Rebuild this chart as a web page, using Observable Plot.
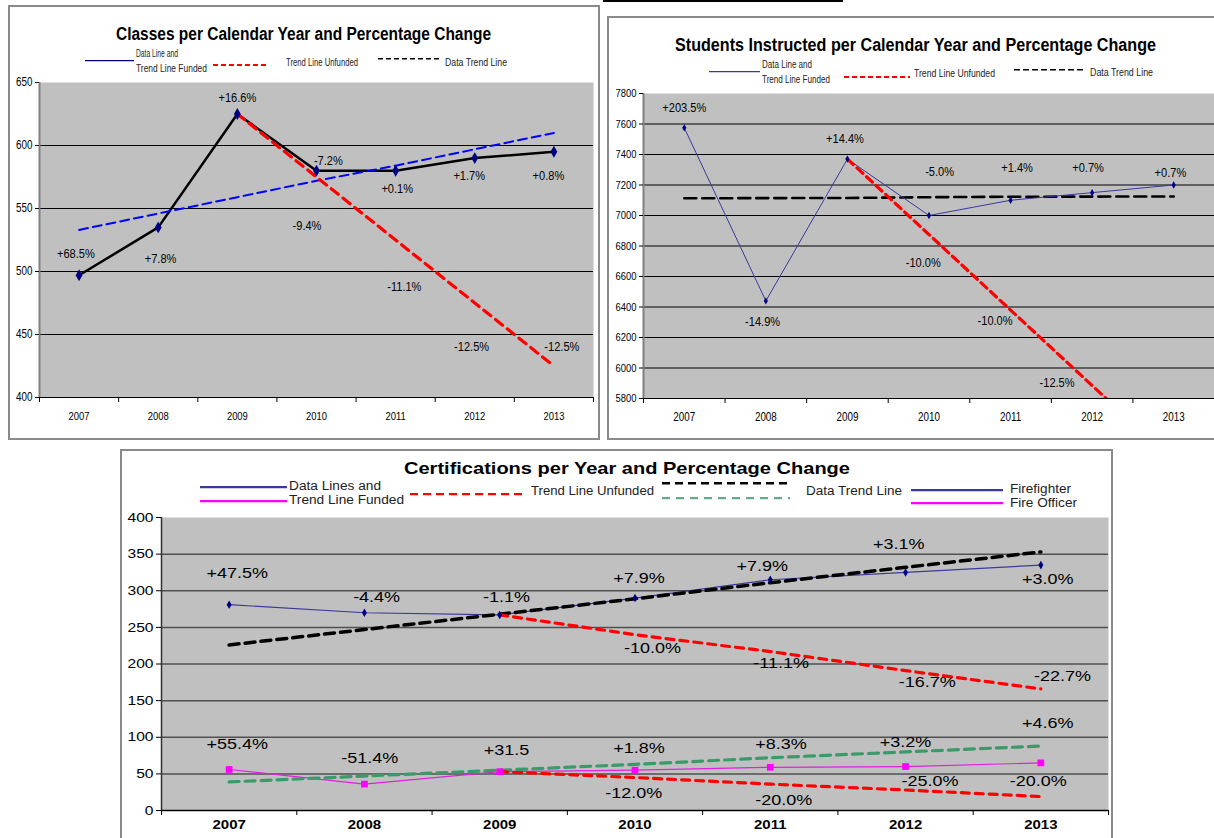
<!DOCTYPE html>
<html><head><meta charset="utf-8">
<script src="https://cdn.jsdelivr.net/npm/d3@7"></script>
<script src="https://cdn.jsdelivr.net/npm/@observablehq/plot@0.6"></script>
<style>
body{margin:0;background:#fff;}
#page{position:relative;width:1214px;height:838px;overflow:hidden;background:#fff;}
.box{position:absolute;border:2px solid #8a8a8a;box-sizing:border-box;}
.lg{position:absolute;white-space:nowrap;color:#222;}
.chart{position:absolute;}
</style></head><body><div id="page"></div>
<script>
const FONT = '"Liberation Sans",Arial,sans-serif';

// ---------- shared categories ----------
const years = [2007, 2008, 2009, 2010, 2011, 2012, 2013];
const yearEdges = [2006.5, 2007.5, 2008.5, 2009.5, 2010.5, 2011.5, 2012.5, 2013.5];
const unfundedYears = [2009, 2010, 2011, 2012, 2013];

// ---------- Chart 1: Classes ----------
const classes = [497, 535, 625, 580, 580, 590, 595];
const classesTrend = [533, 546, 559, 572, 584, 597, 610];
const classesUnfunded = [625, 575, 525, 475, 425];
const classesPct = ["+68.5%", "+7.8%", "+16.6%", "-7.2%", "+0.1%", "+1.7%", "+0.8%"];
const classesPctX = [2006.96, 2008.03, 2009.0, 2010.15, 2011.02, 2011.93, 2012.93];
const classesPctY = [514, 510, 638, 588, 566, 576, 576];
const classesUnfPct = ["-9.4%", "-11.1%", "-12.5%", "-12.5%"];
const classesUnfPctX = [2009.88, 2011.11, 2011.96, 2013.1];
const classesUnfPctY = [536, 488, 440, 440];
const classesTicks = [400, 450, 500, 550, 600, 650];
const classesGrid = [450, 500, 550, 600];

// ---------- Chart 2: Students ----------
const students = [7575, 6440, 7370, 7000, 7100, 7150, 7200];
const studentsTrend = [7113, 7114, 7115, 7120, 7123, 7124, 7125];
const studentsUnfunded = [7370, 6875, 6380, 5885, 5390];
const studentsPct = ["+203.5%", "-14.9%", "+14.4%", "-5.0%", "+1.4%", "+0.7%", "+0.7%"];
const studentsPctX = [2007.0, 2007.96, 2008.97, 2010.13, 2011.08, 2011.95, 2012.96];
const studentsPctY = [7705, 6303, 7504, 7285, 7314, 7314, 7282];
const studentsUnfPct = ["-10.0%", "-10.0%", "-12.5%"];
const studentsUnfPctX = [2009.93, 2010.81, 2011.57];
const studentsUnfPctY = [6690, 6309, 5905];
const studentsTicks = [5800, 6000, 6200, 6400, 6600, 6800, 7000, 7200, 7400, 7600, 7800];
const studentsGrid = [6000, 6200, 6400, 6600, 6800, 7000, 7200, 7400, 7600];

// ---------- Chart 3: Certifications ----------
const firefighter = [281, 270, 267, 290, 315, 325, 335];
const firefighterTrend = [226, 247, 268, 289, 311, 332, 353];
const firefighterUnfunded = [267, 240, 217, 191, 166];
const officer = [56, 36, 53, 55, 59, 60, 65];
const officerTrend = [39, 47, 55, 63, 72, 80, 88];
const officerUnfunded = [53, 45, 36, 28, 19];
const ffPct = ["+47.5%", "-4.4%", "-1.1%", "+7.9%", "+7.9%", "+3.1%", "+3.0%"];
const ffPctX = [2007.06, 2008.09, 2009.05, 2010.03, 2010.94, 2011.95, 2013.05];
const ffPctY = [324, 291, 291, 317, 333, 364, 316];
const ffUnfPct = ["-10.0%", "-11.1%", "-16.7%", "-22.7%"];
const ffUnfPctX = [2010.13, 2011.08, 2012.16, 2013.16];
const ffUnfPctY = [222, 201, 175, 184];
const foPct = ["+55.4%", "-51.4%", "+31.5", "+1.8%", "+8.3%", "+3.2%", "+4.6%"];
const foPctX = [2007.06, 2008.04, 2009.05, 2010.03, 2011.08, 2012.0, 2013.05];
const foPctY = [90, 72, 83, 85, 90, 93, 119];
const foUnfPct = ["-12.0%", "-20.0%", "-25.0%", "-20.0%"];
const foUnfPctX = [2009.99, 2011.1, 2012.18, 2012.98];
const foUnfPctY = [23.5, 14, 39.5, 39.5];
const certTicks = [0, 50, 100, 150, 200, 250, 300, 350, 400];
const certGrid = [50, 100, 150, 200, 250, 300, 350];

// ---------- helpers ----------
const page = document.getElementById("page");
function place(el, left, top) {
  const w = document.createElement("div");
  w.className = "chart";
  w.style.left = left + "px"; w.style.top = top + "px";
  w.appendChild(el); page.appendChild(w);
}
function box(l, t, w, h) {
  const d = document.createElement("div");
  d.className = "box";
  Object.assign(d.style, {left: l + "px", top: t + "px", width: w + "px", height: h + "px"});
  page.appendChild(d);
}
function addText(str, left, cy, size, width, extra = {}) {
  const d = document.createElement("div");
  d.className = "lg";
  d.textContent = str;
  Object.assign(d.style, {left: left + "px", top: (cy - size * 0.6) + "px", fontSize: size + "px", lineHeight: (size * 1.2) + "px", fontFamily: FONT}, extra);
  page.appendChild(d);
  if (width) {
    const w = d.getBoundingClientRect().width;
    d.style.transformOrigin = "left center";
    d.style.transform = `scaleX(${width / w})`;
  }
  return d;
}
function title(str, cx, cy, size, width) {
  return addText(str, cx - width / 2, cy, size, width, {fontWeight: "bold", color: "#000"});
}
function swatch(x1, x2, y, color, sw, dash) {
  const ns = "http://www.w3.org/2000/svg";
  const s = document.createElementNS(ns, "svg");
  const h = sw + 4;
  s.setAttribute("width", x2 - x1); s.setAttribute("height", h);
  s.style.position = "absolute"; s.style.left = x1 + "px"; s.style.top = (y - h / 2) + "px";
  const l = document.createElementNS(ns, "line");
  l.setAttribute("x1", 0); l.setAttribute("x2", x2 - x1);
  l.setAttribute("y1", h / 2); l.setAttribute("y2", h / 2);
  l.setAttribute("stroke", color); l.setAttribute("stroke-width", sw);
  if (dash) l.setAttribute("stroke-dasharray", dash);
  s.appendChild(l); page.appendChild(s);
}
// horizontally squeeze / stretch every text of a chart (Arial Narrow look, or stretched look)
function stretch(svg, k) {
  svg.querySelectorAll("text").forEach(t => {
    const tr = t.getAttribute("transform");
    if (tr) t.setAttribute("transform", tr + ` scale(${k},1)`);
    else {
      const x = t.getAttribute("x") || 0, y = t.getAttribute("y") || 0;
      t.removeAttribute("x"); t.removeAttribute("y");
      t.setAttribute("transform", `translate(${x},${y}) scale(${k},1)`);
    }
  });
}
const idx = (arr) => (d, i) => arr[i];
const yearFmt = d => String(d);

// ---------- panel frames ----------
const topLine = document.createElement("div");
Object.assign(topLine.style, {position: "absolute", left: "603px", top: "0px", width: "240px", height: "2px", background: "#000"});
page.appendChild(topLine);
box(8, 5, 592, 435);
box(607, 16, 620, 424);
box(120, 449, 993, 400);

// ---------- Chart 1 ----------
const c1 = Plot.plot({
  width: 600, height: 440,
  marginLeft: 39, marginRight: 7, marginTop: 82, marginBottom: 43,
  x: {domain: [2006.5, 2013.5]},
  y: {domain: [400, 650]},
  style: {fontFamily: FONT, background: "transparent", color: "#000", overflow: "visible"},
  marks: [
    Plot.frame({fill: "#c0c0c0", stroke: null}),
    Plot.ruleY(classesGrid, {stroke: "#000", strokeWidth: 1}),
    Plot.ruleX([2006.5], {stroke: "#808080", strokeWidth: 2}),
    Plot.ruleY([400], {stroke: "#000", strokeWidth: 1}),
    Plot.axisY({ticks: classesTicks, tickSize: 4, tickPadding: 3, fontSize: 12, tickFormat: yearFmt, label: null}),
    Plot.axisX({ticks: years, tickSize: 0, tickPadding: 14, fontSize: 11.5, tickFormat: yearFmt, label: null}),
    Plot.axisX({ticks: yearEdges, tickSize: 5, tickFormat: () => "", label: null}),
    Plot.line(years, {x: d => d, y: idx(classes), stroke: "#000", strokeWidth: 2.5}),
    Plot.line(years, {x: d => d, y: idx(classesTrend), stroke: "#0000ff", strokeWidth: 2, strokeDasharray: "9,5"}),
    Plot.line(unfundedYears, {x: d => d, y: idx(classesUnfunded), stroke: "#ff0000", strokeWidth: 3.2, strokeDasharray: "9,6"}),
    Plot.dot(years, {x: d => d, y: idx(classes), symbol: "diamond", r: 3.6, fill: "#000080", stroke: "none"}),
    Plot.text(classesPct, {x: idx(classesPctX), y: idx(classesPctY), text: d => d, fontSize: 13.5, fill: "#000"}),
    Plot.text(classesUnfPct, {x: idx(classesUnfPctX), y: idx(classesUnfPctY), text: d => d, fontSize: 13.5, fill: "#000"})
  ]
});
stretch(c1, 0.82);
place(c1, 0, 0);
title("Classes per Calendar Year and Percentage Change", 303, 35, 18, 375);
swatch(85, 134, 61, "#000080", 1.2);
addText("Data Line and", 136, 54, 10, 42);
addText("Trend Line Funded", 136, 69, 10, 71);
swatch(213, 267, 65, "#ff0000", 2, "5,3");
addText("Trend Line Unfunded", 286, 63, 10, 72);
swatch(378, 439, 59, "#000", 1.5, "5,3");
addText("Data Trend Line", 445, 63, 10, 62);

// ---------- Chart 2 ----------
const c2 = Plot.plot({
  width: 607, height: 424,
  marginLeft: 36, marginRight: 0, marginTop: 77, marginBottom: 42,
  x: {domain: [2006.5, 2013.5]},
  y: {domain: [5800, 7800]},
  style: {fontFamily: FONT, background: "transparent", color: "#000", overflow: "visible"},
  marks: [
    Plot.frame({fill: "#c0c0c0", stroke: null}),
    Plot.ruleY(studentsGrid, {stroke: "#000", strokeWidth: 1}),
    Plot.ruleX([2006.5], {stroke: "#808080", strokeWidth: 2}),
    Plot.ruleY([5800], {stroke: "#000", strokeWidth: 1}),
    Plot.axisY({ticks: studentsTicks, tickSize: 4, tickPadding: 3, fontSize: 11.5, tickFormat: yearFmt, label: null}),
    Plot.axisX({ticks: years, tickSize: 0, tickPadding: 14, fontSize: 12, tickFormat: yearFmt, label: null}),
    Plot.axisX({ticks: yearEdges, tickSize: 5, tickFormat: () => "", label: null}),
    Plot.line(years, {x: d => d, y: idx(studentsTrend), stroke: "#000", strokeWidth: 2.6, strokeDasharray: "12,6"}),
    Plot.line(years, {x: d => d, y: idx(students), stroke: "#3a3a9a", strokeWidth: 1}),
    Plot.line(unfundedYears, {x: d => d, y: idx(studentsUnfunded), stroke: "#ff0000", strokeWidth: 3.2, strokeDasharray: "8,5", clip: true}),
    Plot.dot(years, {x: d => d, y: idx(students), symbol: "diamond", r: 2.2, fill: "#000080", stroke: "none"}),
    Plot.text(studentsPct, {x: idx(studentsPctX), y: idx(studentsPctY), text: d => d, fontSize: 13.5, fill: "#000"}),
    Plot.text(studentsUnfPct, {x: idx(studentsUnfPctX), y: idx(studentsUnfPctY), text: d => d, fontSize: 13.5, fill: "#000"})
  ]
});
stretch(c2, 0.82);
place(c2, 607, 16);
title("Students Instructed per Calendar Year and Percentage Change", 915, 46, 18, 481);
swatch(709, 760, 72, "#3a3a9a", 1.2);
addText("Data Line and", 762, 65, 10, 50);
addText("Trend Line Funded", 762, 80, 10, 68);
swatch(844, 910, 77, "#ff0000", 2, "5,3");
addText("Trend Line Unfunded", 914, 74, 10, 81);
swatch(1014, 1085, 70, "#000", 1.5, "6,3");
addText("Data Trend Line", 1090, 73, 10, 63);

// ---------- Chart 3 ----------
const c3 = Plot.plot({
  width: 988, height: 389,
  marginLeft: 41, marginRight: 0, marginTop: 68, marginBottom: 28,
  x: {domain: [2006.5, 2013.5]},
  y: {domain: [0, 400]},
  style: {fontFamily: FONT, background: "transparent", color: "#000", overflow: "visible"},
  marks: [
    Plot.frame({fill: "#c0c0c0", stroke: null}),
    Plot.ruleY(certGrid, {stroke: "#505050", strokeWidth: 1.5}),
    Plot.ruleX([2006.5], {stroke: "#303030", strokeWidth: 1.5}),
    Plot.ruleY([0], {stroke: "#000", strokeWidth: 1.5}),
    Plot.axisY({ticks: certTicks, tickSize: 5, tickPadding: 3, fontSize: 13, tickFormat: yearFmt, label: null}),
    Plot.axisX({ticks: years, tickSize: 0, tickPadding: 10, fontSize: 12.5, fontWeight: "bold", tickFormat: yearFmt, label: null}),
    Plot.axisX({ticks: yearEdges, tickSize: 5, tickFormat: () => "", label: null}),
    Plot.line(years, {x: d => d, y: idx(firefighter), stroke: "#3a3a9a", strokeWidth: 1.2}),
    Plot.line(years, {x: d => d, y: idx(officer), stroke: "#e020e0", strokeWidth: 1.2}),
    Plot.line(years, {x: d => d, y: idx(firefighterTrend), stroke: "#000", strokeWidth: 3.5, strokeDasharray: "10,6"}),
    Plot.line(years, {x: d => d, y: idx(officerTrend), stroke: "#3a9a6a", strokeWidth: 3.2, strokeDasharray: "10,6"}),
    Plot.line(unfundedYears, {x: d => d, y: idx(firefighterUnfunded), stroke: "#ff0000", strokeWidth: 3.2, strokeDasharray: "8,6"}),
    Plot.line(unfundedYears, {x: d => d, y: idx(officerUnfunded), stroke: "#ff0000", strokeWidth: 3.2, strokeDasharray: "8,6"}),
    Plot.dot(years, {x: d => d, y: idx(firefighter), symbol: "diamond", r: 2.6, fill: "#000080", stroke: "none"}),
    Plot.dot(years, {x: d => d, y: idx(officer), symbol: "square", r: 3.8, fill: "#ff00ff", stroke: "none"}),
    Plot.text(ffPct, {x: idx(ffPctX), y: idx(ffPctY), text: d => d, fontSize: 15, fill: "#000"}),
    Plot.text(ffUnfPct, {x: idx(ffUnfPctX), y: idx(ffUnfPctY), text: d => d, fontSize: 15, fill: "#000"}),
    Plot.text(foPct, {x: idx(foPctX), y: idx(foPctY), text: d => d, fontSize: 15, fill: "#000"}),
    Plot.text(foUnfPct, {x: idx(foUnfPctX), y: idx(foUnfPctY), text: d => d, fontSize: 15, fill: "#000"})
  ]
});
stretch(c3, 1.2);
place(c3, 120, 449);
title("Certifications per Year and Percentage Change", 627, 469, 17, 446);
swatch(200, 287, 487, "#3a3a9a", 2.2);
swatch(200, 287, 501, "#ff00ff", 2.2);
addText("Data Lines and", 289, 486, 12.5, 92);
addText("Trend Line Funded", 289, 500, 12.5, 115);
swatch(410, 525, 494, "#ff0000", 2.2, "8,5");
addText("Trend Line Unfunded", 531, 491, 12.5, 123);
swatch(662, 790, 483, "#000", 2.5, "8,5");
swatch(662, 790, 498, "#6aa88a", 2.2, "8,6");
addText("Data Trend Line", 806, 491, 12.5, 96);
swatch(911, 1003, 490, "#3a3a9a", 2.2);
addText("Firefighter", 1010, 489, 12.5, 61);
swatch(911, 1003, 503, "#ff00ff", 2.2);
addText("Fire Officer", 1010, 503, 12.5, 67);
</script></body></html>
